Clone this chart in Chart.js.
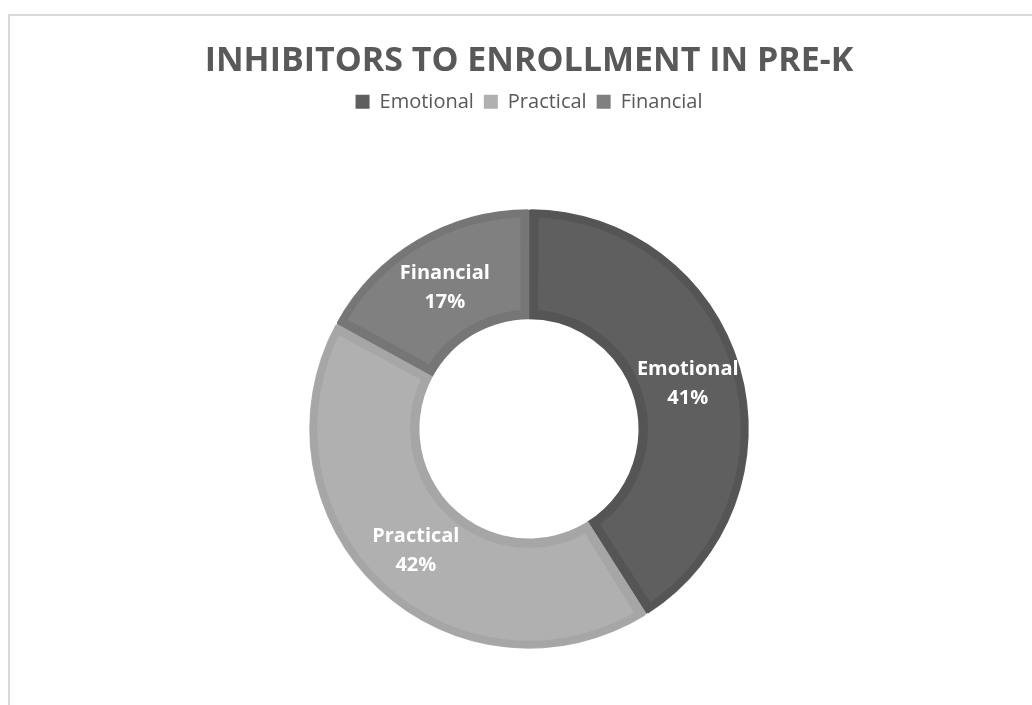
<!DOCTYPE html>
<html>
<head>
<meta charset="utf-8">
<script src="https://cdn.jsdelivr.net/npm/chart.js@4/dist/chart.umd.min.js"></script>
<style>
  html, body { margin: 0; padding: 0; background: #fff; overflow: hidden; }
  #frame {
    position: absolute; left: 8px; top: 14px; width: 1040px; height: 700px;
    border-left: 2px solid #d9d9d9; border-top: 2px solid #d9d9d9;
  }
  #wrap { position: absolute; left: 0; top: 0; width: 1032px; height: 705px; }
</style>
</head>
<body>
<div id="frame"></div>
<div id="wrap"><canvas id="chart"></canvas></div>
<script>
// Inhibitors to enrollment, share of responses (%)
const categories = ['Emotional', 'Practical', 'Financial'];
const shares = [41, 42, 17];
const fillColors = ['#5f5f5f', '#b0b0b0', '#808080'];
const edgeColors = ['#555555', '#a6a6a6', '#767676'];

// white bold labels at the middle of each ring segment
const sliceLabels = {
  id: 'sliceLabels',
  afterDatasetsDraw(chart) {
    const ctx = chart.ctx;
    const meta = chart.getDatasetMeta(0);
    ctx.save();
    ctx.fillStyle = '#ffffff';
    ctx.font = 'bold 20px "Open Sans", sans-serif';
    ctx.textAlign = 'center';
    ctx.textBaseline = 'middle';
    meta.data.forEach((arc, i) => {
      const p = arc.tooltipPosition();
      ctx.fillText(categories[i], p.x, p.y - 13);
      ctx.fillText(shares[i] + '%', p.x, p.y + 16);
    });
    ctx.restore();
  }
};

// leave room between the legend and the ring
const legendGap = {
  id: 'legendGap',
  beforeInit(chart) {
    const fit = chart.legend.fit;
    chart.legend.fit = function () {
      fit.call(this);
      this.height += 87;
    };
  }
};

new Chart(document.getElementById('chart'), {
  type: 'doughnut',
  data: {
    labels: categories,
    datasets: [{
      data: shares,
      backgroundColor: fillColors,
      borderColor: edgeColors,
      borderWidth: 8,
      borderAlign: 'inner'
    }]
  },
  options: {
    responsive: true,
    maintainAspectRatio: false,
    animation: false,
    cutout: '50%',
    spacing: 2,
    layout: { padding: { left: 26, bottom: 56 } },
    plugins: {
      tooltip: { enabled: false },
      title: {
        display: true,
        text: 'INHIBITORS TO ENROLLMENT IN PRE-K',
        color: '#595959',
        font: { family: '"Open Sans", sans-serif', size: 34, weight: 'bold' },
        padding: { top: 41, bottom: 0 }
      },
      legend: {
        position: 'top',
        labels: {
          color: '#595959',
          font: { family: '"Open Sans", sans-serif', size: 20 },
          boxWidth: 14,
          boxHeight: 14,
          padding: 10,
          generateLabels(chart) {
            return categories.map((c, i) => ({
              text: c,
              fillStyle: fillColors[i],
              strokeStyle: fillColors[i],
              lineWidth: 0,
              fontColor: '#595959',
              index: i
            }));
          }
        }
      }
    }
  },
  plugins: [sliceLabels, legendGap]
});
</script>
</body>
</html>
